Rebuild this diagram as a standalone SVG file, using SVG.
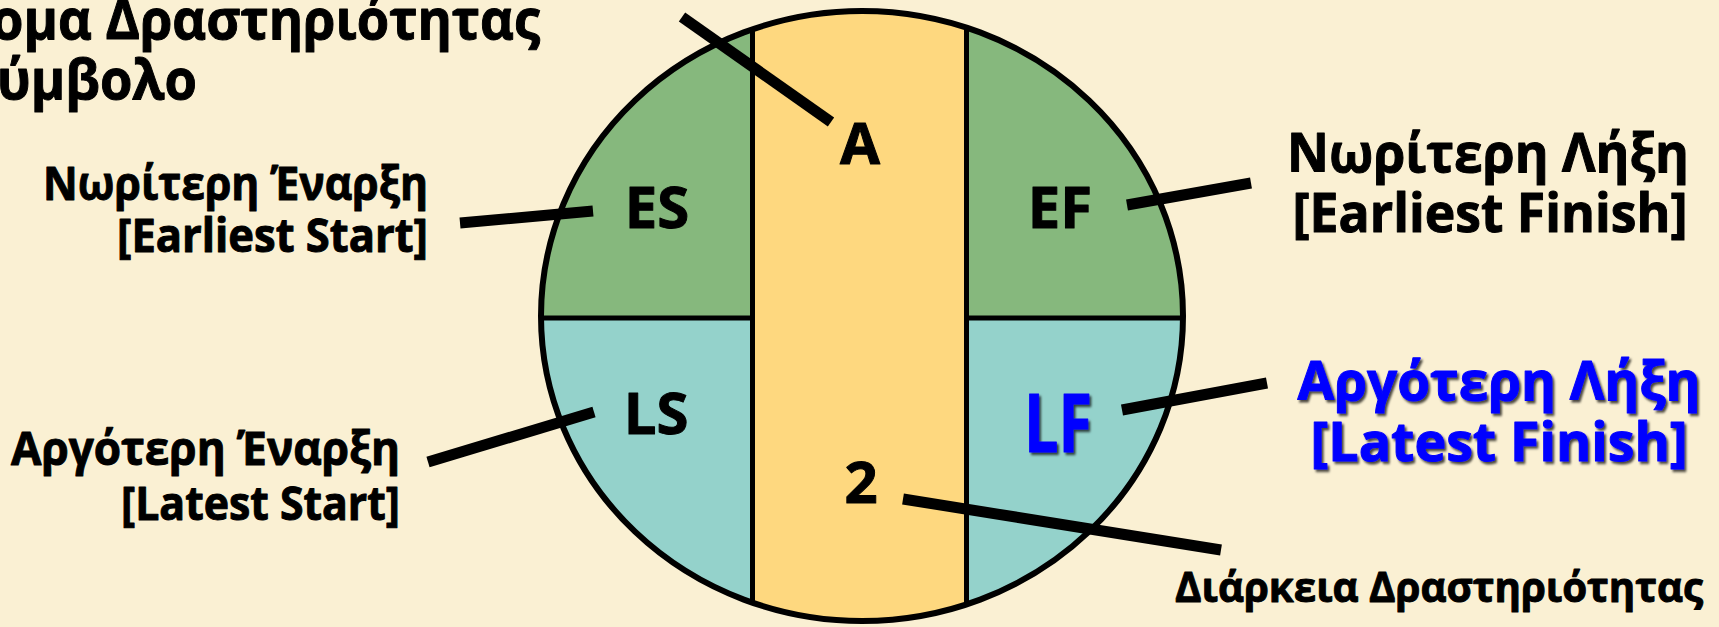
<svg xmlns="http://www.w3.org/2000/svg" width="1719" height="627" viewBox="0 0 1719 627">
<style>
.t{font-family:"Open Sans","Noto Sans","DejaVu Sans",sans-serif;font-weight:bold;fill:#000;stroke:#000;stroke-width:1;stroke-linejoin:round}
.blue{fill:#0000FF;stroke:#0000FF;filter:url(#sh)}
.cell{font-size:58px;text-anchor:middle}
.conn{stroke:#000;stroke-width:11;stroke-linecap:butt;fill:none}
.div{stroke:#000;stroke-width:5;fill:none}
</style>
<defs>
<clipPath id="oval"><ellipse cx="862" cy="316" rx="321" ry="305"/></clipPath>
<filter id="sh" x="-10%" y="-10%" width="130%" height="140%">
<feDropShadow dx="2" dy="2.5" stdDeviation="1" flood-color="#000" flood-opacity="0.7"/>
</filter>
</defs>
<rect width="1719" height="627" fill="#FAF0D3"/>

<g id="title">
<text class="t" x="-9" y="39" font-size="56" textLength="549" lengthAdjust="spacingAndGlyphs">ομα Δραστηριότητας</text>
<text class="t" x="-3" y="99" font-size="56" textLength="200" lengthAdjust="spacingAndGlyphs">ύμβολο</text>
</g>

<g id="activity-node">
<g clip-path="url(#oval)">
<rect x="500" y="0" width="252" height="318" fill="#86B87D"/>
<rect x="500" y="318" width="252" height="309" fill="#94D2CB"/>
<rect x="752" y="0" width="215" height="627" fill="#FED87F"/>
<rect x="967" y="0" width="230" height="318" fill="#86B87D"/>
<rect x="967" y="318" width="230" height="309" fill="#94D2CB"/>
<line class="div" x1="752.5" y1="0" x2="752.5" y2="627"/>
<line class="div" x1="966.5" y1="0" x2="966.5" y2="627"/>
<line class="div" x1="530" y1="318" x2="752" y2="318"/>
<line class="div" x1="967" y1="318" x2="1195" y2="318"/>
</g>
<ellipse cx="862" cy="316" rx="321" ry="305" fill="none" stroke="#000" stroke-width="6"/>
</g>

<g id="cell-A"><text class="t cell" x="860" y="164">A</text></g>
<g id="cell-ES"><text class="t cell" x="657" y="228">ES</text></g>
<g id="cell-EF"><text class="t cell" x="1060" y="228">EF</text></g>
<g id="cell-LS"><text class="t cell" x="656" y="434">LS</text></g>
<g id="cell-LF"><text class="t blue" x="1058" y="452" font-size="80" text-anchor="middle" textLength="68" lengthAdjust="spacingAndGlyphs">LF</text></g>
<g id="cell-duration"><text class="t cell" x="861" y="503">2</text></g>

<g id="label-ES">
<text class="t" x="428" y="200" font-size="47" text-anchor="end" textLength="385" lengthAdjust="spacingAndGlyphs">Νωρίτερη Έναρξη</text>
<text class="t" x="428" y="252" font-size="47" text-anchor="end" textLength="311" lengthAdjust="spacingAndGlyphs">[Earliest Start]</text>
</g>
<g id="label-LS">
<text class="t" x="400" y="465" font-size="47" text-anchor="end" textLength="389" lengthAdjust="spacingAndGlyphs">Αργότερη Έναρξη</text>
<text class="t" x="400" y="520" font-size="47" text-anchor="end" textLength="279" lengthAdjust="spacingAndGlyphs">[Latest Start]</text>
</g>
<g id="label-EF">
<text class="t" x="1488" y="172" font-size="54" text-anchor="middle" textLength="402" lengthAdjust="spacingAndGlyphs">Νωρίτερη Λήξη</text>
<text class="t" x="1490" y="232" font-size="54" text-anchor="middle" textLength="395" lengthAdjust="spacingAndGlyphs">[Earliest Finish]</text>
</g>
<g id="label-LF">
<text class="t blue" x="1499" y="400" font-size="54" text-anchor="middle" textLength="403" lengthAdjust="spacingAndGlyphs">Αργότερη Λήξη</text>
<text class="t blue" x="1499" y="461" font-size="54" text-anchor="middle" textLength="377" lengthAdjust="spacingAndGlyphs">[Latest Finish]</text>
</g>
<g id="label-duration">
<text class="t" x="1439" y="602" font-size="41" text-anchor="middle" textLength="528" lengthAdjust="spacingAndGlyphs">Διάρκεια Δραστηριότητας</text>
</g>

<g id="connectors">
<line class="conn" x1="682" y1="17" x2="831" y2="122"/>
<line class="conn" x1="460" y1="223" x2="593" y2="211"/>
<line class="conn" x1="1127" y1="205" x2="1251" y2="183"/>
<line class="conn" x1="428" y1="462" x2="594" y2="412"/>
<line class="conn" x1="1122" y1="410" x2="1267" y2="383"/>
<line class="conn" x1="903" y1="499" x2="1221" y2="550"/>
</g>
</svg>
